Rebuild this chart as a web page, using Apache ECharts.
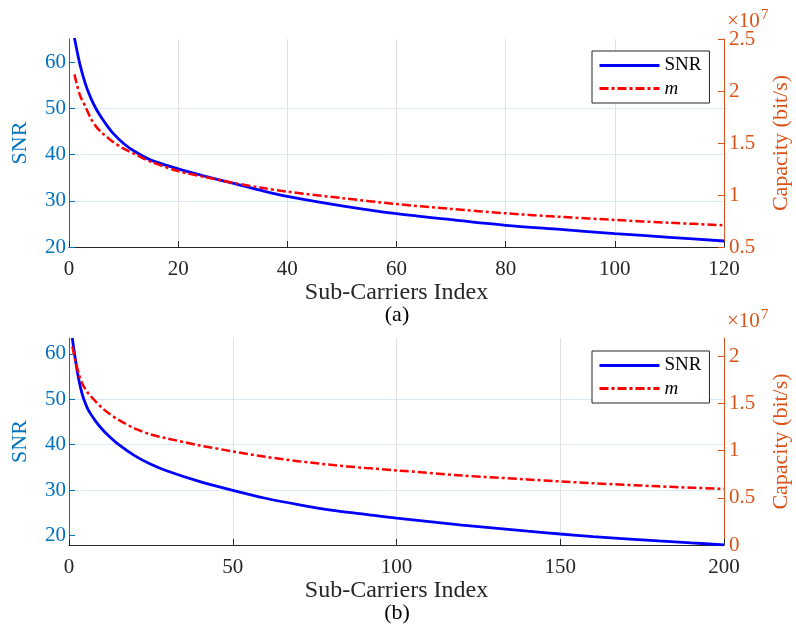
<!DOCTYPE html>
<html>
<head>
<meta charset="utf-8">
<script src="https://cdn.jsdelivr.net/npm/echarts@6/dist/echarts.min.js"></script>
<style>
html,body{margin:0;padding:0;background:#fff;}
#chart{width:796px;height:626px;}
</style>
</head>
<body>
<div id="chart"></div>
<script>
// ---- Panel (a) ----
const xA   = [1, 2, 3, 4, 5, 6, 7, 8, 10, 12, 15, 20, 25, 30, 35, 40, 50, 60, 70, 80, 90, 100, 110, 120];
const snrA = [65.2, 59.5, 55.3, 52.2, 49.8, 47.9, 46.2, 44.7, 42.4, 40.7, 38.8, 36.9, 35.3, 33.8, 32.3, 30.95, 28.9, 27.2, 25.9, 24.7, 23.8, 22.9, 22.1, 21.3];
const capA = [2.16e7, 1.96e7, 1.85e7, 1.736e7, 1.655e7, 1.60e7, 1.555e7, 1.513e7, 1.446e7, 1.395e7, 1.32e7, 1.23e7, 1.172e7, 1.118e7, 1.072e7, 1.032e7, 0.97e7, 0.913e7, 0.866e7, 0.824e7, 0.79e7, 0.76e7, 0.733e7, 0.709e7];
// ---- Panel (b) ----
const xB   = [1, 2, 3, 4, 5, 6, 8, 10, 12, 15, 20, 25, 30, 40, 50, 60, 70, 80, 90, 100, 120, 140, 150, 160, 180, 190, 200];
const snrB = [63.5, 58.5, 54.3, 51.2, 49.1, 47.5, 45.3, 43.5, 42.0, 40.1, 37.6, 35.7, 34.2, 31.85, 29.93, 28.2, 26.8, 25.6, 24.7, 23.8, 22.3, 20.95, 20.32, 19.75, 18.8, 18.35, 17.95];
const capB = [2.106e7, 1.945e7, 1.81e7, 1.716e7, 1.653e7, 1.604e7, 1.527e7, 1.457e7, 1.40e7, 1.33e7, 1.237e7, 1.172e7, 1.13e7, 1.055e7, 0.993e7, 0.935e7, 0.889e7, 0.85e7, 0.818e7, 0.791e7, 0.737e7, 0.695e7, 0.674e7, 0.655e7, 0.622e7, 0.608e7, 0.594e7];
// ---- Tick labels ----
const snrTicks  = [20, 30, 40, 50, 60];
const capTicksA = [0.5e7, 1e7, 1.5e7, 2e7, 2.5e7];
const capTicksB = [0, 0.5e7, 1e7, 1.5e7, 2e7];
const seriesNames = ['SNR', 'm'];
const captions = ['(a)', '(b)'];
const xTitle = 'Sub-Carriers Index';
const ySNRTitle = 'SNR';
const yCapTitle = 'Capacity (bit/s)';

const FONT = 'Liberation Serif';
const BLUE_AX = '#0072BD', ORANGE_AX = '#D95319', DARK = '#262626';
const pairs = (xs, ys) => xs.map((x, i) => [x, ys[i]]);

function xAxisCfg(grid, max, interval) {
  return {
    type: 'value', gridIndex: grid, min: 0, max: max, interval: interval,
    name: xTitle, nameLocation: 'middle', nameGap: 31,
    nameTextStyle: {fontFamily: FONT, fontSize: 24, color: DARK},
    axisLine: {show: true, onZero: false, lineStyle: {color: DARK, width: 1}},
    axisTick: {show: true, inside: true, length: 6, lineStyle: {color: DARK}},
    axisLabel: {fontFamily: FONT, fontSize: 21, color: DARK, margin: 12},
    splitLine: {show: true, lineStyle: {color: '#e0e0e0', width: 1}}
  };
}
function leftAxisCfg(grid, min, max) {
  return {
    type: 'value', gridIndex: grid, position: 'left', min: min, max: max,
    name: ySNRTitle, nameLocation: 'middle', nameGap: 38, nameRotate: 90,
    nameTextStyle: {fontFamily: FONT, fontSize: 22, color: BLUE_AX},
    axisLine: {show: true, lineStyle: {color: BLUE_AX, width: 1}},
    axisTick: {show: true, inside: true, length: 6, customValues: snrTicks, lineStyle: {color: BLUE_AX}},
    axisLabel: {fontFamily: FONT, fontSize: 21, color: BLUE_AX, margin: 3, customValues: snrTicks},
    splitLine: {show: true, showMinLine: false, showMaxLine: false, lineStyle: {color: '#d9e9f5', width: 1}}
  };
}
function rightAxisCfg(grid, min, max, interval, ticks) {
  return {
    type: 'value', gridIndex: grid, position: 'right', min: min, max: max, interval: interval,
    name: yCapTitle, nameLocation: 'middle', nameGap: 46, nameRotate: 90,
    nameTextStyle: {fontFamily: FONT, fontSize: 22, color: ORANGE_AX},
    axisLine: {show: true, lineStyle: {color: ORANGE_AX, width: 1}},
    axisTick: {show: true, inside: true, length: 6, customValues: ticks, lineStyle: {color: ORANGE_AX}},
    axisLabel: {fontFamily: FONT, fontSize: 21, color: ORANGE_AX, margin: 5, customValues: ticks,
      formatter: v => String(+(v / 1e7).toFixed(2))},
    splitLine: {show: false}
  };
}
function snrSeries(xi, yi, xs, ys) {
  return {type: 'line', name: seriesNames[0], xAxisIndex: xi, yAxisIndex: yi, data: pairs(xs, ys),
    symbol: 'none', showSymbol: false, smooth: 0.3, clip: true,
    lineStyle: {color: '#0000ff', width: 2.8}, itemStyle: {color: '#0000ff'}, z: 3};
}
function capSeries(xi, yi, xs, ys) {
  return {type: 'line', name: seriesNames[1], xAxisIndex: xi, yAxisIndex: yi, data: pairs(xs, ys),
    symbol: 'none', showSymbol: false, smooth: 0.3, clip: true,
    lineStyle: {color: '#ff0000', width: 2.5, type: [9, 3, 3, 3]}, itemStyle: {color: '#ff0000'}, z: 4};
}
function legendCfg(top) {
  return {
    data: seriesNames, orient: 'vertical', left: 592, top: top, selectedMode: false,
    padding: [5, 8, 5, 6], itemGap: 4, itemWidth: 60, itemHeight: 14,
    backgroundColor: '#fff', borderColor: DARK, borderWidth: 1, borderRadius: 0,
    itemStyle: {color: 'rgba(0,0,0,0)', borderColor: 'rgba(0,0,0,0)', borderWidth: 0, opacity: 0},
    lineStyle: {width: 3},
    textStyle: {fontFamily: FONT, fontSize: 19, color: '#000',
      rich: {it: {fontFamily: FONT, fontSize: 19, fontStyle: 'italic', color: '#000'}}},
    formatter: n => n === 'm' ? '{it|m}' : n
  };
}
function caption(text, y) {
  return {type: 'text', x: 397, y: y, style: {text: text, font: '22px "' + FONT + '"', fill: '#000', align: 'center', verticalAlign: 'middle'}};
}
function mult(y) {
  return [
    {type: 'text', x: 727, y: y, style: {text: '×10', font: '21px "' + FONT + '"', fill: ORANGE_AX, align: 'left', verticalAlign: 'middle'}},
    {type: 'text', x: 761, y: y - 6, style: {text: '7', font: '15px "' + FONT + '"', fill: ORANGE_AX, align: 'left', verticalAlign: 'middle'}}
  ];
}

const chart = echarts.init(document.getElementById('chart'), null, {renderer: 'canvas'});
chart.setOption({
  animation: false,
  backgroundColor: '#fff',
  grid: [
    {left: 69, top: 39, width: 655, height: 208, outerBoundsMode: 'none'},
    {left: 69, top: 338, width: 655, height: 207, outerBoundsMode: 'none'}
  ],
  xAxis: [xAxisCfg(0, 120, 20), xAxisCfg(1, 200, 50)],
  yAxis: [
    leftAxisCfg(0, 20, 65),
    rightAxisCfg(0, 0.5e7, 2.5e7, 0.5e7, capTicksA),
    leftAxisCfg(1, 17.9, 63.5),
    rightAxisCfg(1, 0, 2.195e7, 0.5e7, capTicksB)
  ],
  legend: [legendCfg(51), legendCfg(351)],
  series: [
    snrSeries(0, 0, xA, snrA), capSeries(0, 1, xA, capA),
    snrSeries(1, 2, xB, snrB), capSeries(1, 3, xB, capB)
  ],
  graphic: [caption(captions[0], 315), caption(captions[1], 613)].concat(mult(21), mult(321))
});
</script>
</body>
</html>
